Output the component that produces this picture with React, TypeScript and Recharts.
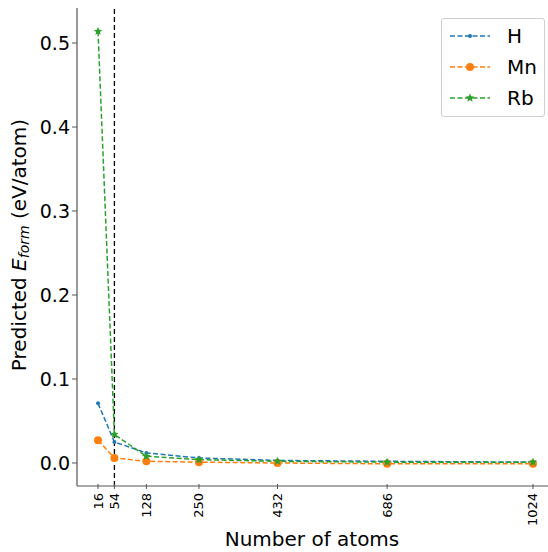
import React from "react";
import { LineChart, Line, XAxis, YAxis, ReferenceLine } from "recharts";

const atoms = [16, 54, 128, 250, 432, 686, 1024];
const hValues = [0.071, 0.025, 0.012, 0.006, 0.003, 0.002, 0.001];
const mnValues = [0.027, 0.006, 0.002, 0.001, 0.0, -0.001, -0.001];
const rbValues = [0.514, 0.034, 0.008, 0.004, 0.002, 0.001, 0.001];
const yTicks = [0, 0.1, 0.2, 0.3, 0.4, 0.5];
const seriesNames = ["H", "Mn", "Rb"];
const colors = ["#1f77b4", "#ff7f0e", "#2ca02c"];

const data = atoms.map((a, i) => ({ n: a, H: hValues[i], Mn: mnValues[i], Rb: rbValues[i] }));

const FONT = "DejaVu Sans, sans-serif";
const SPINE = "#555";

const starPath = (cx: number, cy: number, r: number) => {
  const pts: string[] = [];
  for (let i = 0; i < 10; i++) {
    const ang = -Math.PI / 2 + (i * Math.PI) / 5;
    const rr = i % 2 === 0 ? r : r * 0.45;
    pts.push(`${cx + rr * Math.cos(ang)},${cy + rr * Math.sin(ang)}`);
  }
  return "M" + pts.join("L") + "Z";
};

const makeDot = (kind: string, color: string) => (props: any) => {
  const { cx, cy, index } = props;
  if (cx == null || cy == null) return <g key={index} />;
  if (kind === "H") return <circle key={index} cx={cx} cy={cy} r={2} fill={color} stroke="none" />;
  if (kind === "Mn") return <circle key={index} cx={cx} cy={cy} r={4} fill={color} stroke="none" />;
  return <path key={index} d={starPath(cx, cy, 4.5)} fill={color} stroke="none" />;
};

const XTick = (props: any) => {
  const { x, y, payload } = props;
  return (
    <g>
      <line x1={x} y1={y - 8} x2={x} y2={y - 3} stroke={SPINE} strokeWidth={1} />
      <text
        x={x}
        y={y}
        transform={`rotate(-90, ${x}, ${y})`}
        textAnchor="end"
        dominantBaseline="central"
        fontSize={13}
        fontFamily={FONT}
        fill="#000"
        dx={-1}
      >
        {payload.value}
      </text>
    </g>
  );
};

const XLabel = () => (
  <text x={312} y={546} textAnchor="middle" fontSize={20} fontFamily={FONT} fill="#000">
    Number of atoms
  </text>
);

const YLabel = () => (
  <text
    x={19}
    y={245}
    transform="rotate(-90, 19, 245)"
    textAnchor="middle"
    dominantBaseline="central"
    fontSize={20}
    fontFamily={FONT}
    fill="#000"
  >
    <tspan>Predicted </tspan>
    <tspan fontStyle="italic">E</tspan>
    <tspan fontStyle="italic" fontSize={14} dy={5}>form</tspan>
    <tspan dy={-5}> (eV/atom)</tspan>
  </text>
);

const LegendBox = () => (
  <div
    style={{
      position: "absolute",
      left: 441,
      top: 18,
      width: 104,
      height: 99,
      border: "1px solid #d0d0d0",
      borderRadius: 3,
      background: "#fff",
      fontFamily: FONT,
      fontSize: 20,
      boxSizing: "border-box",
    }}
  >
    {seriesNames.map((name, i) => (
      <div key={name} style={{ position: "absolute", left: 0, top: 4 + i * 31, height: 26, width: 104 }}>
        <svg width={44} height={26} style={{ position: "absolute", left: 6, top: 0 }}>
          <line x1={2} y1={13} x2={42} y2={13} stroke={colors[i]} strokeWidth={1.5} strokeDasharray="5 2.5" />
          {i === 0 && <circle cx={22} cy={13} r={2} fill={colors[i]} />}
          {i === 1 && <circle cx={22} cy={13} r={4} fill={colors[i]} />}
          {i === 2 && <path d={starPath(22, 13, 4.5)} fill={colors[i]} />}
        </svg>
        <span style={{ position: "absolute", left: 65, top: 1, lineHeight: "24px", color: "#000" }}>{name}</span>
      </div>
    ))}
  </div>
);

export default function App() {
  return (
    <div style={{ position: "absolute", left: 0, top: 0, width: 548, height: 552, background: "#fff" }}>
      <LineChart width={548} height={552} data={data} margin={{ top: 8, right: 0, bottom: 0, left: 0 }}>
        <XAxis
          dataKey="n"
          type="number"
          domain={[-32.7, 1058.8]}
          ticks={atoms}
          interval={0}
          height={66}
          tick={<XTick />}
          tickLine={false}
          axisLine={{ stroke: SPINE, strokeWidth: 1.2 }}
          tickMargin={0}
          allowDataOverflow
          label={<XLabel />}
        />
        <YAxis
          type="number"
          domain={[-0.0274, 0.5417]}
          ticks={yTicks}
          width={77}
          tickFormatter={(v: number) => v.toFixed(1)}
          tick={{ fontSize: 19, fontFamily: FONT, fill: "#000" }}
          tickLine={{ stroke: SPINE }}
          tickSize={5}
          axisLine={{ stroke: SPINE, strokeWidth: 1.2 }}
          allowDataOverflow
          label={<YLabel />}
        />
        <XAxis xAxisId="top" dataKey="n" type="number" domain={[-32.7, 1058.8]} orientation="top" height={0} tick={false} tickLine={false} axisLine={{ stroke: SPINE, strokeWidth: 1.2 }} />
        <ReferenceLine x={54} stroke="#000" strokeDasharray="5 3" strokeWidth={1.3} />
        {seriesNames.map((name, i) => (
          <Line
            key={name}
            dataKey={name}
            stroke={colors[i]}
            strokeWidth={1.5}
            strokeDasharray="5 2.5"
            type="linear"
            dot={makeDot(name, colors[i])}
            activeDot={false}
            isAnimationActive={false}
            legendType="none"
          />
        ))}
      </LineChart>
      <LegendBox />
    </div>
  );
}
